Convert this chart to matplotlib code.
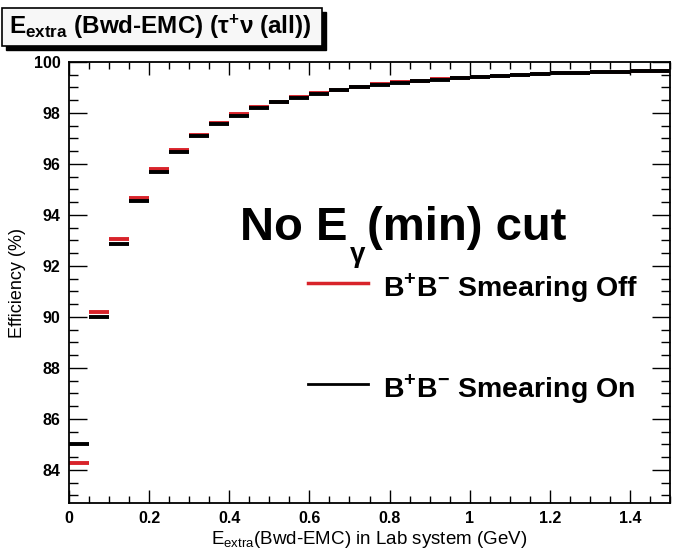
import numpy as np
import matplotlib
matplotlib.use("Agg")
import matplotlib.pyplot as plt
from matplotlib.patches import Rectangle
from matplotlib.ticker import MultipleLocator

plt.rcParams['font.family'] = ['Liberation Sans', 'DejaVu Sans']

# bin edges (0.05 GeV wide bins from 0 to 1.5)
bin_lo = [0.00, 0.05, 0.10, 0.15, 0.20, 0.25, 0.30, 0.35, 0.40, 0.45,
          0.50, 0.55, 0.60, 0.65, 0.70, 0.75, 0.80, 0.85, 0.90, 0.95,
          1.00, 1.05, 1.10, 1.15, 1.20, 1.25, 1.30, 1.35, 1.40, 1.45]
bin_w = 0.05

# efficiency (%)
eff_off = [84.25, 90.20, 93.05, 94.68, 95.80, 96.55, 97.15, 97.60, 97.95, 98.22,
           98.45, 98.63, 98.78, 98.92, 99.03, 99.12, 99.20, 99.27, 99.33, 99.38,
           99.42, 99.46, 99.50, 99.53, 99.56, 99.58, 99.60, 99.62, 99.64, 99.66]
eff_on = [85.00, 89.98, 92.85, 94.55, 95.68, 96.47, 97.08, 97.55, 97.90, 98.18,
          98.42, 98.60, 98.76, 98.90, 99.01, 99.10, 99.18, 99.25, 99.31, 99.37,
          99.41, 99.45, 99.49, 99.52, 99.55, 99.57, 99.59, 99.61, 99.63, 99.65]

W, H = 673, 556
fig = plt.figure(figsize=(W / 100, H / 100), dpi=100)
ax = fig.add_axes([69 / W, 1 - 503 / H, (670 - 69) / W, (503 - 62) / H])

lo = np.array(bin_lo)
hi = lo + bin_w
red = '#d8232a'
ax.hlines(eff_off, lo, hi, colors=red, lw=2.8)
ax.hlines(eff_on, lo, hi, colors='black', lw=2.8)

ax.set_xlim(0, 1.5)
ax.set_ylim(82.7, 100)
ax.xaxis.set_major_locator(MultipleLocator(0.2))
ax.xaxis.set_minor_locator(MultipleLocator(0.05))
ax.yaxis.set_major_locator(MultipleLocator(2))
ax.yaxis.set_minor_locator(MultipleLocator(0.5))
ax.tick_params(axis='both', which='both', direction='in', top=True, right=True)
ax.tick_params(axis='y', which='major', length=13, width=1)
ax.tick_params(axis='y', which='minor', length=6.5, width=1)
ax.tick_params(axis='x', which='major', length=9.5, width=1)
ax.tick_params(axis='x', which='minor', length=4.7, width=1)
ax.tick_params(axis='both', labelsize=11.5, pad=6)
for lab in ax.get_yticklabels():
    lab.set_fontweight('bold')
ax.set_xticks([0, 0.2, 0.4, 0.6, 0.8, 1.0, 1.2, 1.4])
ax.set_xticklabels(['0', '0.2', '0.4', '0.6', '0.8', '1', '1.2', '1.4'], fontweight='bold')
for s in ax.spines.values():
    s.set_linewidth(1.3)

ax.set_ylabel('Efficiency (%)', fontsize=13, labelpad=6)
ax.set_xlabel(r'E$_{\mathregular{extra}}$(Bwd-EMC) in Lab system (GeV)', fontsize=13.5, labelpad=2)

# annotation and legend drawn as text in figure pixels
def fx(px):
    return px / W

def fy(py):
    return 1 - py / H

renderer = fig.canvas.get_renderer()

t1 = fig.text(fx(240), fy(240), 'No E', fontsize=34, fontweight='bold', va='baseline')
x_end = t1.get_window_extent(renderer).x1
t2 = fig.text(x_end / W + fx(1), fy(262), r'$\mathregular{\gamma}$', fontsize=20,
              fontweight='bold', va='baseline')
x_end = t2.get_window_extent(renderer).x1
fig.text(x_end / W + fx(1), fy(240), '(min) cut', fontsize=34, fontweight='bold', va='baseline')

leg_sup = r'B$^{\mathregular{+}}$B$^{\mathregular{-}}$'
fig.add_artist(plt.Line2D([fx(308), fx(368)], [fy(283), fy(283)], color=red, lw=2.5))
fig.text(fx(383), fy(296), leg_sup + ' Smearing Off', fontsize=20.5, fontweight='bold',
         va='baseline')
fig.add_artist(plt.Line2D([fx(308), fx(368)], [fy(384), fy(384)], color='black', lw=2))
fig.text(fx(383), fy(397), leg_sup + ' Smearing On', fontsize=20.5, fontweight='bold',
         va='baseline')

# title box with shadow
fig.add_artist(Rectangle((fx(6), fy(50)), (326 - 6) / W, (50 - 12) / H, transform=fig.transFigure,
                         facecolor='black', edgecolor='black'))
fig.add_artist(Rectangle((fx(2), fy(46)), (322 - 2) / W, (46 - 8) / H, transform=fig.transFigure,
                         facecolor='#f7f7f7', edgecolor='black', lw=1.2))
fig.text(fx(9), fy(34), r'E$_{\mathregular{extra}}$ (Bwd-EMC) ($\mathregular{\tau^{+}\nu}$ (all))',
         fontsize=17.5, fontweight='bold', va='baseline')

fig.savefig('out.png', dpi=100)
